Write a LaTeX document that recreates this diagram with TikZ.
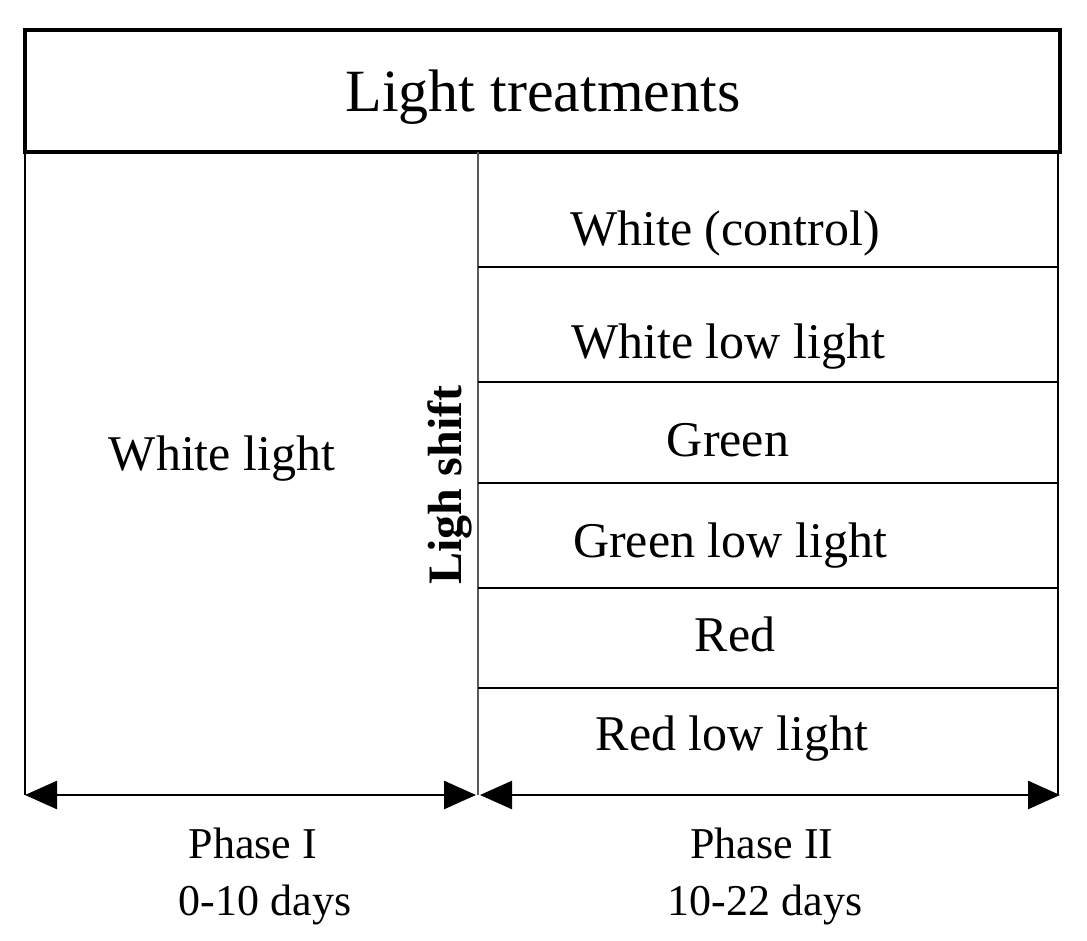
\documentclass[tikz,border=0pt]{standalone}
\usepackage{fontspec}
\setmainfont{Liberation Serif}
\usetikzlibrary{arrows.meta}
\begin{document}
\begin{tikzpicture}[x=1pt,y=-1pt,
  lbl/.style={font=\fontsize{50}{56}\selectfont, inner sep=0pt, anchor=base},
  ph/.style={font=\fontsize{44}{50}\selectfont, inner sep=0pt, anchor=base},
  ln/.style={line width=1.8pt},
  arr/.style={line width=2.5pt,{Triangle[length=32pt,width=28pt]}-{Triangle[length=32pt,width=28pt]}}]
\useasboundingbox (0,0) rectangle (1087,941);
\draw[line width=3.5pt] (25,30) rectangle (1060,152);
\node[font=\fontsize{60}{66}\selectfont, inner sep=0pt, anchor=base] (title) at (543,112) {Light treatments};
\coordinate (tl) at (25,152); \coordinate (bl) at (25,795);
\coordinate (tr) at (1058,152); \coordinate (br) at (1058,795);
\coordinate (tm) at (478,152); \coordinate (bm) at (478,795);
\draw[ln] (tl) -- (bl);
\draw[ln] (tr) -- (br);
\draw[ln, gray!70!black] (tm) -- (bm);
\foreach \y in {267,382,483,588,688}{\draw[ln] (478,\y) -- (1058,\y);}
\node[lbl] (w1) at (725,246) {White (control)};
\node[lbl] (w2) at (728,358) {White low light};
\node[lbl] (g1) at (728,456) {Green};
\node[lbl] (g2) at (730,557) {Green low light};
\node[lbl] (r1) at (735,651) {Red};
\node[lbl] (r2) at (732,750) {Red low light};
\node[lbl] (wl) at (222,470) {White light};
\node[font=\fontsize{48}{54}\selectfont\bfseries, inner sep=0pt, rotate=90] (ls) at (450,485) {Ligh shift};
\coordinate (a1) at (25,795); \coordinate (a2) at (476,795);
\coordinate (a3) at (480,795); \coordinate (a4) at (1060,795);
\draw[arr] (a1) -- (a2);
\draw[arr] (a3) -- (a4);
\node[ph] (p1) at (253,858) {Phase I};
\node[ph] (d1) at (265,915) {0-10 days};
\node[ph] (p2) at (762,858) {Phase II};
\node[ph] (d2) at (765,915) {10-22 days};
\end{tikzpicture}
\end{document}
